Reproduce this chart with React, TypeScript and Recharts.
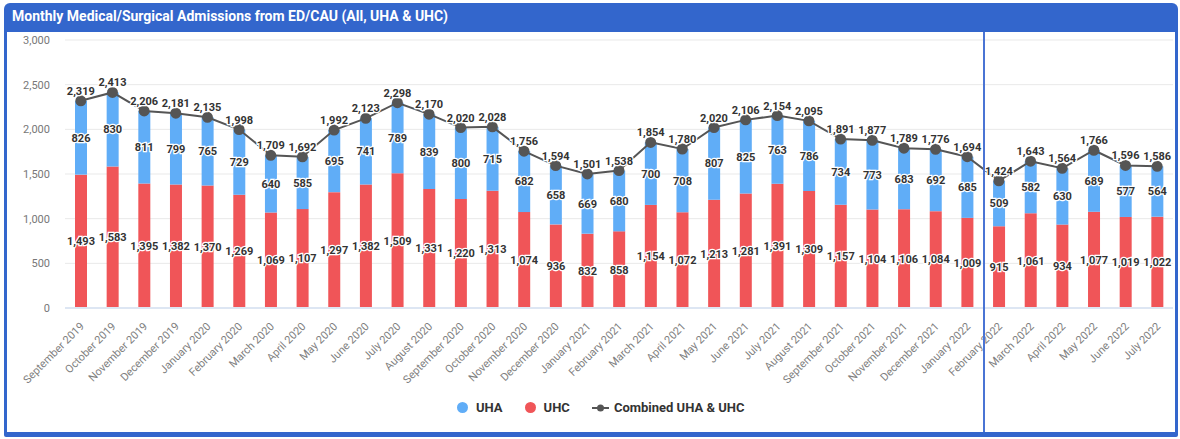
import {
  Bar,
  CartesianGrid,
  ComposedChart,
  LabelList,
  Legend,
  Line,
  XAxis,
  YAxis,
} from "recharts";

const months = [
  "September 2019", "October 2019", "November 2019", "December 2019",
  "January 2020", "February 2020", "March 2020", "April 2020", "May 2020",
  "June 2020", "July 2020", "August 2020", "September 2020", "October 2020",
  "November 2020", "December 2020", "January 2021", "February 2021",
  "March 2021", "April 2021", "May 2021", "June 2021", "July 2021",
  "August 2021", "September 2021", "October 2021", "November 2021",
  "December 2021", "January 2022", "February 2022", "March 2022",
  "April 2022", "May 2022", "June 2022", "July 2022",
];

const uhc = [
  1493, 1583, 1395, 1382, 1370, 1269, 1069, 1107, 1297, 1382, 1509, 1331,
  1220, 1313, 1074, 936, 832, 858, 1154, 1072, 1213, 1281, 1391, 1309,
  1157, 1104, 1106, 1084, 1009, 915, 1061, 934, 1077, 1019, 1022,
];

const uha = [
  826, 830, 811, 799, 765, 729, 640, 585, 695, 741, 789, 839,
  800, 715, 682, 658, 669, 680, 700, 708, 807, 825, 763, 786,
  734, 773, 683, 692, 685, 509, 582, 630, 689, 577, 564,
];

const combined = [
  2319, 2413, 2206, 2181, 2135, 1998, 1709, 1692, 1992, 2123, 2298, 2170,
  2020, 2028, 1756, 1594, 1501, 1538, 1854, 1780, 2020, 2106, 2154, 2095,
  1891, 1877, 1789, 1776, 1694, 1424, 1643, 1564, 1766, 1596, 1586,
];

const yTicks = [0, 500, 1000, 1500, 2000, 2500, 3000];
const seriesNames = { uha: "UHA", uhc: "UHC", combined: "Combined UHA & UHC" };
const splitAt = "February 2022";

const BLUE = "#60adf7";
const RED = "#f05558";
const LINE = "#555";
const FRAME = "#3366cc";
const FONT = "Roboto, Arial, sans-serif";

const data = months.map((month, i) => ({
  month,
  uha: uha[i],
  uhc: uhc[i],
  combined: combined[i],
}));

const fmt = (v: any) => Number(v).toLocaleString("en-US");

const W = 1168;
const H = 400;
const margin = { top: 8, right: 2, left: 0, bottom: 12 };
const yAxisWidth = 58;

const labelStyle = {
  fill: "#333",
  fontSize: 11,
  fontWeight: 700,
  fontFamily: FONT,
  stroke: "#fff",
  strokeWidth: 2.5,
  paintOrder: "stroke",
} as any;

function MonthTick({ x, y, payload }: any) {
  const ax = x + 4;
  const ay = y + 11;
  return (
    <text
      x={ax}
      y={ay}
      transform={`rotate(-45 ${ax} ${ay})`}
      textAnchor="end"
      fontSize={11}
      fill="#808080"
      fontFamily={FONT}
    >
      {payload.value}
    </text>
  );
}

function LegendContent() {
  const item = { display: "flex", alignItems: "center", marginRight: 22 };
  const dot = (c: string) => ({
    width: 11, height: 11, borderRadius: 6, background: c, marginRight: 8,
  });
  return (
    <div
      style={{
        display: "flex",
        paddingLeft: 450,
        fontFamily: FONT,
        fontSize: 13,
        fontWeight: 700,
        color: "#333",
      }}
    >
      <div style={item}>
        <span style={dot(BLUE)} />
        {seriesNames.uha}
      </div>
      <div style={item}>
        <span style={dot(RED)} />
        {seriesNames.uhc}
      </div>
      <div style={item}>
        <svg width={17} height={10} style={{ marginRight: 5 }}>
          <line x1={0} y1={5} x2={17} y2={5} stroke={LINE} strokeWidth={2} />
          <circle cx={8.5} cy={5} r={3.5} fill={LINE} />
        </svg>
        {seriesNames.combined}
      </div>
    </div>
  );
}

export default function App() {
  const plotW = W - margin.left - margin.right - yAxisWidth;
  const band = plotW / months.length;
  const splitX = 7 + margin.left + yAxisWidth + months.indexOf(splitAt) * band;

  return (
    <div
      style={{
        position: "absolute",
        left: 0,
        top: 0,
        width: 1180,
        height: 439,
        background: "#fff",
      }}
    >
      <div
        style={{
          position: "absolute",
          left: 4,
          top: 3,
          width: 1174,
          height: 434,
          background: FRAME,
          borderRadius: "6px 6px 2px 2px",
        }}
      />
      <div
        style={{
          position: "absolute",
          left: 12,
          top: 8,
          color: "#fff",
          fontFamily: FONT,
          fontWeight: 700,
          fontSize: 14,
        }}
      >
        Monthly Medical/Surgical Admissions from ED/CAU (All, UHA &amp; UHC)
      </div>
      <div
        style={{
          position: "absolute",
          left: 7,
          top: 32,
          width: W,
          height: H,
          background: "#fff",
        }}
      >
        <ComposedChart width={W} height={H} data={data} margin={margin}>
          <CartesianGrid vertical={false} stroke="#e9e9e9" />
          <XAxis
            dataKey="month"
            interval={0}
            tickLine={false}
            axisLine={{ stroke: "#dde6f3", strokeWidth: 2 }}
            tick={<MonthTick />}
            height={92}
          />
          <YAxis
            width={yAxisWidth}
            domain={[0, 3000]}
            ticks={yTicks}
            axisLine={false}
            tickLine={false}
            tickFormatter={fmt}
            tick={{ fill: "#777", fontSize: 11, fontFamily: FONT, dx: -7 }}
          />
          <Legend verticalAlign="bottom" height={20} content={<LegendContent />} />
          <Bar dataKey="uhc" name={seriesNames.uhc} stackId="a" fill={RED} barSize={12} isAnimationActive={false}>
            <LabelList dataKey="uhc" position="center" formatter={fmt} style={labelStyle} />
          </Bar>
          <Bar dataKey="uha" name={seriesNames.uha} stackId="a" fill={BLUE} barSize={12} isAnimationActive={false}>
            <LabelList dataKey="uha" position="center" formatter={fmt} style={labelStyle} />
          </Bar>
          <Line
            dataKey="combined"
            name={seriesNames.combined}
            stroke={LINE}
            strokeWidth={2}
            dot={{ r: 4.5, fill: LINE, stroke: LINE }}
            isAnimationActive={false}
          >
            <LabelList dataKey="combined" position="top" offset={6} formatter={fmt} style={labelStyle} />
          </Line>
        </ComposedChart>
      </div>
      <div
        style={{
          position: "absolute",
          left: splitX,
          top: 32,
          width: 1.5,
          height: H,
          background: "#4a74d4",
        }}
      />
    </div>
  );
}
